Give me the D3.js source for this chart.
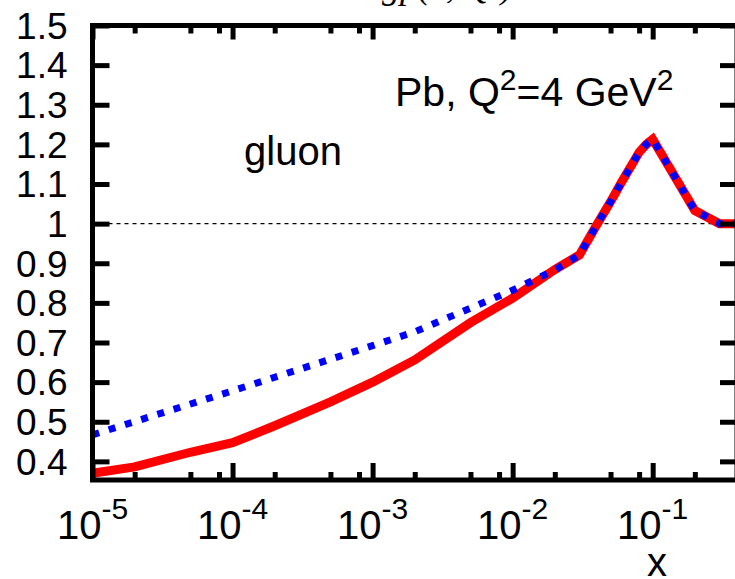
<!DOCTYPE html>
<html>
<head>
<meta charset="utf-8">
<script src="https://cdn.jsdelivr.net/npm/d3@7"></script>
<style>
  body { margin: 0; background: #fff; }
  svg { display: block; }
  text { font-family: 'Liberation Sans', Arial, sans-serif; fill: #000; }
</style>
</head>
<body>
<div id="chart"></div>
<script>
// data
var xRed = [1e-5, 2e-5, 5e-5, 1e-4, 2e-4, 5e-4, 1e-3, 2e-3, 5e-3, 1e-2, 2e-2, 3e-2, 4e-2, 5e-2, 6e-2, 7e-2, 8e-2, 9e-2, 0.1, 0.2, 0.3, 0.4];
var yRed = [0.370, 0.386, 0.423, 0.447, 0.490, 0.550, 0.600, 0.656, 0.750, 0.812, 0.884, 0.921, 0.998, 1.055, 1.105, 1.145, 1.180, 1.200, 1.213, 1.033, 1.000, 1.000];

var xBlue = [1e-5, 1e-4, 1e-3, 2e-3, 1e-2, 2e-2, 3e-2, 4e-2, 5e-2, 6e-2, 7e-2, 8e-2, 9e-2, 0.1, 0.2, 0.3, 0.4];
var yBlue = [0.467, 0.578, 0.692, 0.727, 0.832, 0.883, 0.921, 0.998, 1.055, 1.105, 1.145, 1.180, 1.200, 1.213, 1.033, 1.000, 1.000];

var xMajor = [1e-5, 1e-4, 1e-3, 1e-2, 1e-1];
var xMajorExp = ['-5', '-4', '-3', '-2', '-1'];
var xMinor = [2e-5, 5e-5, 8e-5, 2e-4, 5e-4, 8e-4, 2e-3, 5e-3, 8e-3, 2e-2, 5e-2, 8e-2, 2e-1];
var yTicks = [0.4, 0.5, 0.6, 0.7, 0.8, 0.9, 1.0, 1.1, 1.2, 1.3, 1.4, 1.5];
var yTickLabels = ['0.4', '0.5', '0.6', '0.7', '0.8', '0.9', '1', '1.1', '1.2', '1.3', '1.4', '1.5'];

// set up chart
var svgWidth = 735;
var svgHeight = 579;

var margin = { top: 25.5, left: 92.5 };
var width = 737 - margin.left;
var height = 480 - margin.top;

var svg = d3.select('#chart')
  .append('svg')
  .attr('width', svgWidth)
  .attr('height', svgHeight)
  .style('overflow', 'hidden');

var chartGroup = svg.append('g')
  .attr('transform', `translate(${margin.left}, ${margin.top})`);

var xLogScale = d3.scaleLog()
  .domain([1e-5, 0.4])
  .range([0, width]);

var yLinearScale = d3.scaleLinear()
  .domain([0.353, 1.5])
  .range([height, 0]);

// cut-off title at the very top
svg.append('text')
  .attr('x', 382)
  .attr('y', -2)
  .style('font-family', "'Liberation Serif', serif")
  .style('font-style', 'italic')
  .style('font-size', '36px')
  .text('gp(x, Q²)');

// reference line at 1
chartGroup.append('line')
  .attr('x1', 0)
  .attr('x2', width)
  .attr('y1', yLinearScale(1))
  .attr('y2', yLinearScale(1))
  .attr('stroke', '#000')
  .attr('stroke-width', 1.2)
  .attr('stroke-dasharray', '4,4');

// curves
var line = d3.line()
  .x(d => xLogScale(d[0]))
  .y(d => yLinearScale(d[1]));

chartGroup.append('path')
  .datum(d3.zip(xRed, yRed))
  .attr('d', line)
  .attr('fill', 'none')
  .attr('stroke', '#ff0000')
  .attr('stroke-width', 9)
  .attr('stroke-linejoin', 'miter');

chartGroup.append('path')
  .datum(d3.zip(xBlue, yBlue))
  .attr('d', line)
  .attr('fill', 'none')
  .attr('stroke', '#0000ff')
  .attr('stroke-width', 7)
  .attr('stroke-dasharray', '7,10');

// axes with inward ticks on all four sides
function styleAxis(g) {
  g.select('.domain').remove();
  g.selectAll('.tick line').attr('stroke', '#000').attr('stroke-width', 5);
}

chartGroup.append('g')
  .attr('transform', `translate(0, ${height})`)
  .call(d3.axisBottom(xLogScale).tickValues(xMajor).tickSize(-17).tickFormat(''))
  .call(styleAxis);
chartGroup.append('g')
  .attr('transform', `translate(0, ${height})`)
  .call(d3.axisBottom(xLogScale).tickValues(xMinor).tickSize(-8).tickFormat(''))
  .call(styleAxis);
chartGroup.append('g')
  .call(d3.axisTop(xLogScale).tickValues(xMajor).tickSize(-14).tickFormat(''))
  .call(styleAxis);
chartGroup.append('g')
  .call(d3.axisTop(xLogScale).tickValues(xMinor).tickSize(-8).tickFormat(''))
  .call(styleAxis);
chartGroup.append('g')
  .call(d3.axisLeft(yLinearScale).tickValues(yTicks).tickSize(-17).tickFormat(''))
  .call(styleAxis);
chartGroup.append('g')
  .attr('transform', `translate(${width}, 0)`)
  .call(d3.axisRight(yLinearScale).tickValues(yTicks).tickSize(-17).tickFormat(''))
  .call(styleAxis);

// frame
chartGroup.append('rect')
  .attr('width', width)
  .attr('height', height)
  .attr('fill', 'none')
  .attr('stroke', '#000')
  .attr('stroke-width', 5);

// y tick labels
chartGroup.selectAll('.ylab')
  .data(yTicks)
  .enter()
  .append('text')
  .attr('class', 'ylab')
  .attr('x', -25)
  .attr('y', d => yLinearScale(d))
  .attr('dy', '0.36em')
  .style('text-anchor', 'end')
  .style('font-size', '37px')
  .text((d, i) => yTickLabels[i]);

// x tick labels, 10 with exponent
var xLabels = chartGroup.selectAll('.xlab')
  .data(xMajor)
  .enter()
  .append('text')
  .attr('class', 'xlab')
  .attr('x', d => xLogScale(d))
  .attr('y', 539 - margin.top)
  .style('text-anchor', 'middle')
  .style('font-size', '40px');
xLabels.append('tspan').text('10');
xLabels.append('tspan')
  .attr('dy', -20)
  .style('font-size', '30px')
  .text((d, i) => xMajorExp[i]);

// axis label
svg.append('text')
  .attr('x', 657)
  .attr('y', 576)
  .style('text-anchor', 'middle')
  .style('font-size', '40px')
  .text('x');

// annotations
var note = svg.append('text')
  .attr('x', 395)
  .attr('y', 106)
  .style('font-size', '41px');
note.append('tspan').text('Pb, Q');
note.append('tspan').attr('dy', -16).style('font-size', '30px').text('2');
note.append('tspan').attr('dy', 16).text('=4 GeV');
note.append('tspan').attr('dy', -16).style('font-size', '30px').text('2');

svg.append('text')
  .attr('x', 244)
  .attr('y', 165)
  .style('font-size', '40px')
  .text('gluon');
</script>
</body>
</html>
